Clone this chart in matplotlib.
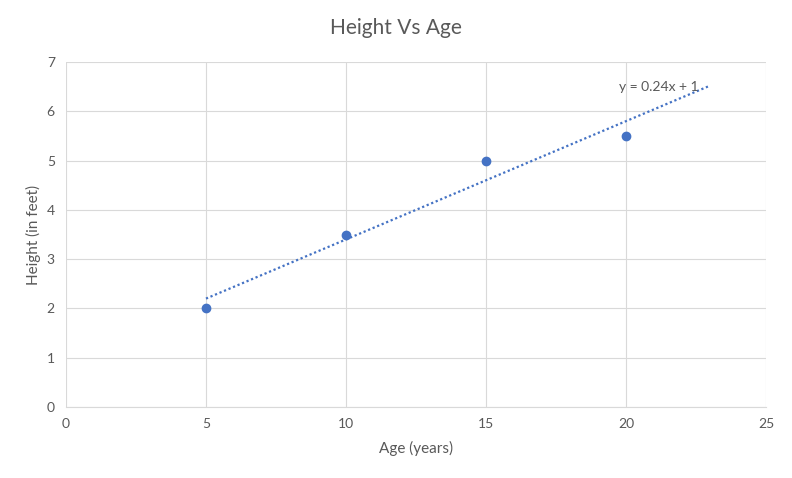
import matplotlib
matplotlib.use("Agg")
import numpy as np
import matplotlib.pyplot as plt

plt.rcParams['font.family'] = ['Lato', 'DejaVu Sans']

age = [5, 10, 15, 20]
height = [2, 3.5, 5, 5.5]
trend_x = [5, 23]
slope, intercept = 0.24, 1
xticks = [0, 5, 10, 15, 20, 25]
yticks = [0, 1, 2, 3, 4, 5, 6, 7]

blue = '#4472C4'
txt = '#595959'
grid = '#D9D9D9'

fig = plt.figure(figsize=(7.92, 4.78), dpi=100)
ax = fig.add_axes([0.0833, 0.1485, 0.8839, 0.7218])

tx = np.array(trend_x)
ax.plot(tx, slope * tx + intercept, linestyle=(0, (1, 1.2)), color=blue, linewidth=1.6, zorder=2)
ax.plot(age, height, 'o', color=blue, markersize=6, zorder=3)
ax.text(19.75, 6.49, 'y = 0.24x + 1', color=txt, fontsize=10, ha='left', va='center')

ax.set_xlim(0, 25)
ax.set_ylim(0, 7)
ax.set_xticks(xticks)
ax.set_yticks(yticks)
ax.grid(True, color=grid, linewidth=0.8)
ax.set_axisbelow(True)
for s in ax.spines.values():
    s.set_visible(False)
ax.spines['bottom'].set_visible(True)
ax.spines['bottom'].set_color(grid)
ax.tick_params(length=0, labelsize=10, colors=txt, pad=8)

fig.text(0.5, 1 - 28 / 478, 'Height Vs Age', fontsize=15, color=txt, ha='center', va='center')
ax.set_xlabel('Age (years)', fontsize=11, color=txt, labelpad=8)
ax.set_ylabel('Height (in feet)', fontsize=11, color=txt, labelpad=4)

fig.savefig('out.png', dpi=100)
